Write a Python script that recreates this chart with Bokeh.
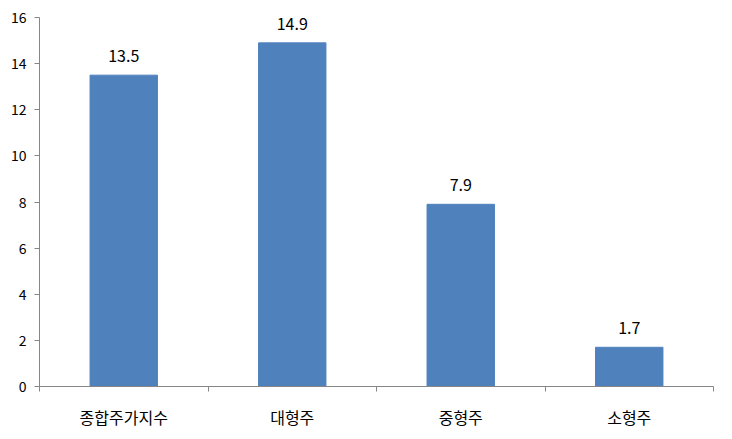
from bokeh.plotting import figure
from bokeh.models import ColumnDataSource, Range1d, FixedTicker, LabelSet
from bokeh.embed import file_html
from bokeh.resources import INLINE
from bokeh.core.properties import value

categories = ["종합주가지수", "대형주", "중형주", "소형주"]
values = [13.5, 14.9, 7.9, 1.7]
y_ticks = [0, 2, 4, 6, 8, 10, 12, 14, 16]

xs = [i + 0.5 for i in range(len(categories))]
src = ColumnDataSource(dict(x=xs, top=values, lbl=[f"{v:.1f}" for v in values]))

p = figure(width=720, height=431, output_backend="svg", toolbar_location=None,
           x_range=Range1d(0, len(categories)), y_range=Range1d(0, 16),
           min_border_left=39, min_border_right=7, min_border_top=17, min_border_bottom=44)
p.outline_line_color = None
p.xgrid.visible = False
p.ygrid.visible = False

p.vbar(x="x", top="top", width=0.4, source=src, color="#4F81BD")

labels = LabelSet(x="x", y="top", text="lbl", source=src, text_align="center",
                  text_baseline="bottom", y_offset=13, text_font_size="16px",
                  text_font=value("Noto Sans CJK KR"), text_color="#000000")
p.add_layout(labels)

axis_color = "#868686"
p.yaxis.ticker = FixedTicker(ticks=y_ticks)
p.yaxis.axis_line_color = axis_color
p.yaxis.major_tick_line_color = axis_color
p.yaxis.major_tick_out = 5
p.yaxis.major_tick_in = 0
p.yaxis.minor_tick_line_color = None
p.yaxis.major_label_text_font = "Noto Sans CJK KR"
p.yaxis.major_label_text_font_size = "14px"
p.yaxis.major_label_text_color = "#000000"
p.yaxis.major_label_standoff = 8

p.xaxis.ticker = FixedTicker(ticks=xs, minor_ticks=list(range(len(categories) + 1)))
p.xaxis.major_label_overrides = {x: c for x, c in zip(xs, categories)}
p.xaxis.axis_line_color = axis_color
p.xaxis.major_tick_line_color = None
p.xaxis.minor_tick_line_color = axis_color
p.xaxis.minor_tick_out = 5
p.xaxis.minor_tick_in = 0
p.xaxis.major_label_text_font = "Noto Sans CJK KR"
p.xaxis.major_label_text_font_size = "16px"
p.xaxis.major_label_text_color = "#000000"
p.xaxis.major_label_standoff = 12

open("out.html", "w").write(file_html(p, INLINE))
